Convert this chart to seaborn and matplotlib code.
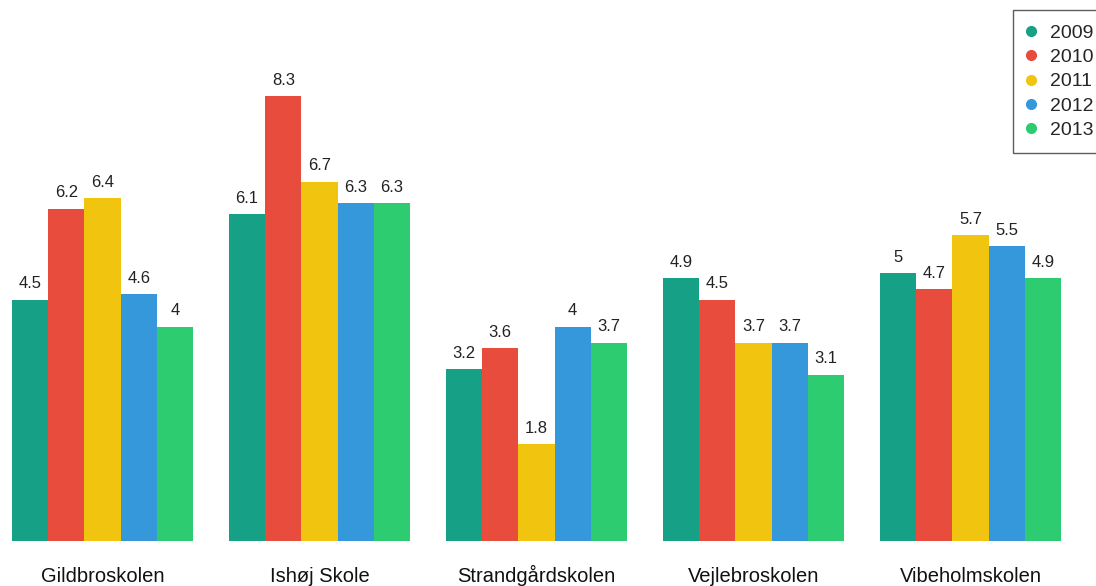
import matplotlib
matplotlib.use("Agg")
import matplotlib.pyplot as plt
import seaborn as sns
import pandas as pd
from matplotlib.lines import Line2D

schools = ["Gildbroskolen", "Ishøj Skole", "Strandgårdskolen", "Vejlebroskolen", "Vibeholmskolen"]
years = ["2009", "2010", "2011", "2012", "2013"]
v2009 = [4.5, 6.1, 3.2, 4.9, 5.0]
v2010 = [6.2, 8.3, 3.6, 4.5, 4.7]
v2011 = [6.4, 6.7, 1.8, 3.7, 5.7]
v2012 = [4.6, 6.3, 4.0, 3.7, 5.5]
v2013 = [4.0, 6.3, 3.7, 3.1, 4.9]
colors = ["#16a085", "#e74c3c", "#f1c40f", "#3498db", "#2ecc71"]

series = [v2009, v2010, v2011, v2012, v2013]
rows = []
for y, vals in zip(years, series):
    for s, v in zip(schools, vals):
        rows.append({"school": s, "year": y, "value": v})
df = pd.DataFrame(rows)

sns.set_style("white")
plt.rcParams["font.family"] = ["Liberation Sans", "DejaVu Sans"]

fig = plt.figure(figsize=(10.96, 5.86), dpi=100)
ax = fig.add_axes([0, 45 / 586, 1, 541 / 586])
sns.barplot(data=df, x="school", y="value", hue="year", palette=colors,
            width=0.834, gap=0, ax=ax, legend=False, saturation=1,
            order=schools, hue_order=years, linewidth=0, edgecolor="none")

for cont in ax.containers:
    labels = [("%g" % b.get_height()) for b in cont]
    ax.bar_label(cont, labels=labels, padding=6, fontsize=12, color="#222222")

ax.set_xlim(-102.5 / 217, (1096 - 102.5) / 217)
ax.set_ylim(0, 10.09)
ax.set_xlabel("")
ax.set_ylabel("")
ax.set_yticks([])
ax.tick_params(axis="x", length=0, pad=29.5, labelsize=14.5, labelcolor="#111111")
for lbl in ax.get_xticklabels():
    lbl.set_verticalalignment("baseline")
for sp in ax.spines.values():
    sp.set_visible(False)

handles = [Line2D([0], [0], marker="o", linestyle="", markersize=7,
                  markerfacecolor=c, markeredgecolor=c) for c in colors]
leg = fig.legend(handles, years, loc="upper left",
                 bbox_to_anchor=(1013 / 1096, 1 - 10 / 586),
                 fontsize=14, frameon=True, fancybox=False,
                 handlelength=0.36, handletextpad=0.79, labelspacing=0.34,
                 borderpad=0.74, borderaxespad=0)
leg.get_frame().set_edgecolor("#333333")
leg.get_frame().set_linewidth(1.0)

fig.savefig("out.png", dpi=100)
